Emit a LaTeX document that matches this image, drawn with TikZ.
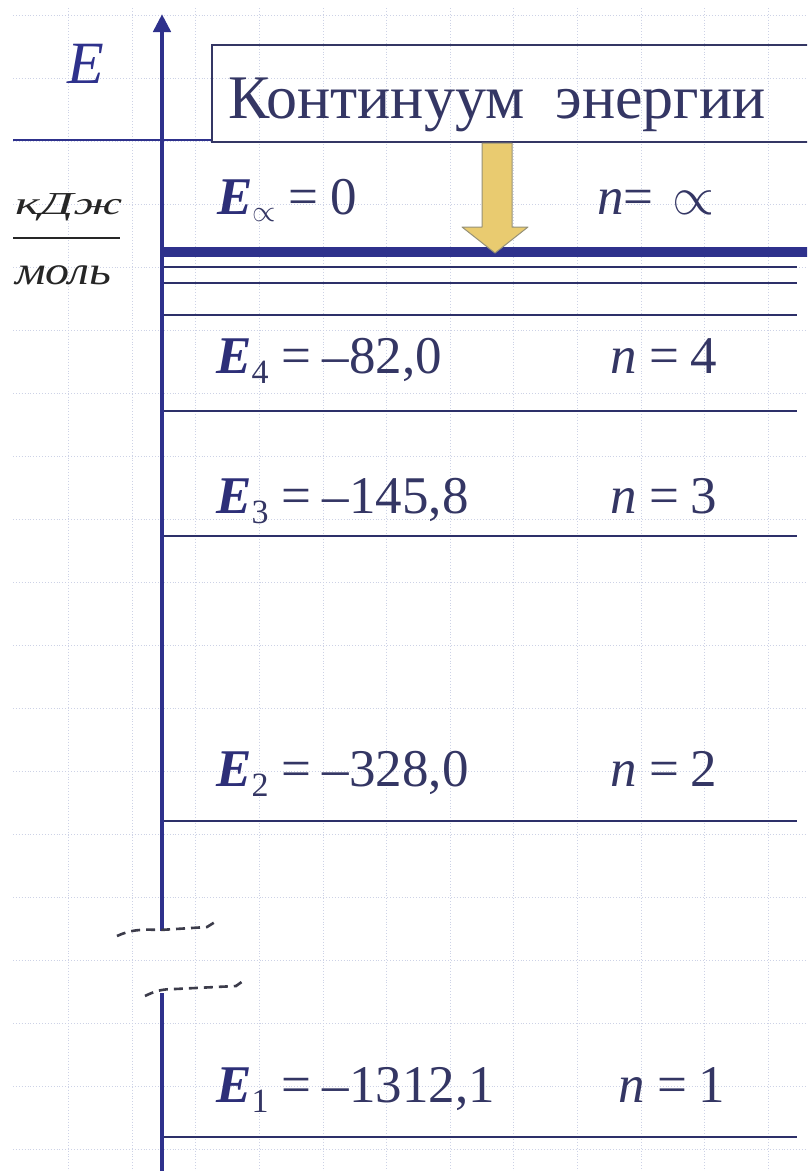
\RequirePackage{fix-cm}
\documentclass[tikz,border=0pt]{standalone}
\usepackage{fontspec}
\setmainfont{Liberation Serif}
\usepackage{graphicx}
\usetikzlibrary{arrows.meta}
\definecolor{axisblue}{RGB}{46,49,140}
\definecolor{lvl}{RGB}{45,48,105}
\definecolor{txt}{RGB}{52,54,100}
\definecolor{enavy}{RGB}{45,47,120}
\definecolor{gridc}{RGB}{205,210,230}
\definecolor{arrfill}{RGB}{233,203,112}
\definecolor{arrdraw}{RGB}{150,145,120}
\definecolor{breakc}{RGB}{60,60,75}
\newcommand\EE[1]{{\bfseries\itshape\color{enavy}E}\raisebox{-10pt}{\fontsize{34}{34}\selectfont #1}}
\newcommand\eqs{\hspace{0.24em}=\hspace{0.22em}}
\begin{document}
\begin{tikzpicture}[x=1pt,y=-1pt,
  lbl/.style={anchor=base west,inner sep=0pt,text=txt,font=\fontsize{53}{60}\selectfont},
  thinlevel/.style={draw=lvl,line width=2.2pt},
  gridline/.style={draw=gridc,dotted,line width=0.9pt},
  axisline/.style={draw=axisblue,line width=4.5pt},
  breakmark/.style={draw=breakc,line width=2.6pt,dash pattern=on 9pt off 6pt}]
\useasboundingbox (0,0) rectangle (807,1171);
\clip (0,0) rectangle (807,1171);
\fill[white] (0,0) rectangle (807,1171);
% faint grid
\foreach \i in {1,...,12} \draw[gridline] ({5+63.6*\i},8) -- ({5+63.6*\i},1171);
\foreach \j in {0,...,18} \draw[gridline] (13,{15+63*\j}) -- (807,{15+63*\j});
% coordinates
\coordinate (axtop) at (162,14);
\coordinate (axbrk) at (162,931);
\coordinate (axres) at (162,993);
\coordinate (axbot) at (162,1180);
% thin line at top-left and box
\draw[draw=axisblue,line width=1.3pt] (13,140) -- (212,140);
\draw[draw=txt,line width=1.6pt] (830,45) -- (212,45) -- (212,142) -- (830,142);
\node[anchor=base west,inner sep=0pt,text=txt,font=\fontsize{62}{70}\selectfont] (cont) at (228,118) {Континуум\ \ энергии};
% axis label and units
\node[anchor=base west,inner sep=0pt,text=axisblue,font=\fontsize{60}{70}\selectfont\itshape] (elab) at (67,83) {E};
\node[anchor=base west,inner sep=0pt,text=black!85,font=\fontsize{32}{34}\selectfont\itshape] (kj) at (15,214) {\scalebox{1.65}[1]{кДж}};
\draw[draw=black!85,line width=2pt] (13,238) -- (120,238);
\node[anchor=base west,inner sep=0pt,text=black!85,font=\fontsize{40}{44}\selectfont\itshape] (mol) at (15,284) {\scalebox{1.2}[1]{моль}};
% levels
\draw[draw=axisblue,line width=10pt] (162,252) -- (812,252);
\draw[thinlevel] (162,267) -- (797,267);
\draw[thinlevel] (162,283) -- (797,283);
\draw[thinlevel] (162,315) -- (797,315);
\draw[thinlevel] (162,411) -- (797,411);
\draw[thinlevel] (162,536) -- (797,536);
\draw[thinlevel] (162,821) -- (797,821);
\draw[thinlevel] (162,1137) -- (797,1137);
% axis
\draw[axisline,-{Triangle[length=18pt,width=17pt]}] (axbrk) -- (axtop);
\draw[axisline] (axres) -- (axbot);
% break marks
\draw[breakmark] (117,936) .. controls (130,930) and (140,929) .. (160,930) -- (207,927) -- (215,922);
\draw[breakmark] (145,996) .. controls (155,991) and (162,989) .. (175,989) -- (236,986) -- (243,981);
% yellow arrow
\draw[draw=arrdraw,fill=arrfill,line width=1pt,line join=round] (482,143) -- (512,143) -- (512,227) -- (528,227) -- (495,253) -- (462,227) -- (482,227) -- cycle;
% labels
\node[lbl] (einf) at (217,214) {{\bfseries\itshape\color{enavy}E}\raisebox{-7pt}{\fontsize{30}{30}\selectfont$\propto$}\eqs 0};
\node[lbl] (ninf) at (597,214) {\textit{n}=\hspace{0.35em}{\fontsize{54}{60}\selectfont$\propto$}};
\node[lbl] (e4) at (216,373) {\EE{4}\eqs–82,0};
\node[lbl] (n4) at (610,373) {\textit{n}\eqs 4};
\node[lbl] (e3) at (216,513) {\EE{3}\eqs–145,8};
\node[lbl] (n3) at (610,513) {\textit{n}\eqs 3};
\node[lbl] (e2) at (216,786) {\EE{2}\eqs–328,0};
\node[lbl] (n2) at (610,786) {\textit{n}\eqs 2};
\node[lbl] (e1) at (216,1102) {\EE{1}\eqs–1312,1};
\node[lbl] (n1) at (618,1102) {\textit{n}\eqs 1};
\end{tikzpicture}
\end{document}
